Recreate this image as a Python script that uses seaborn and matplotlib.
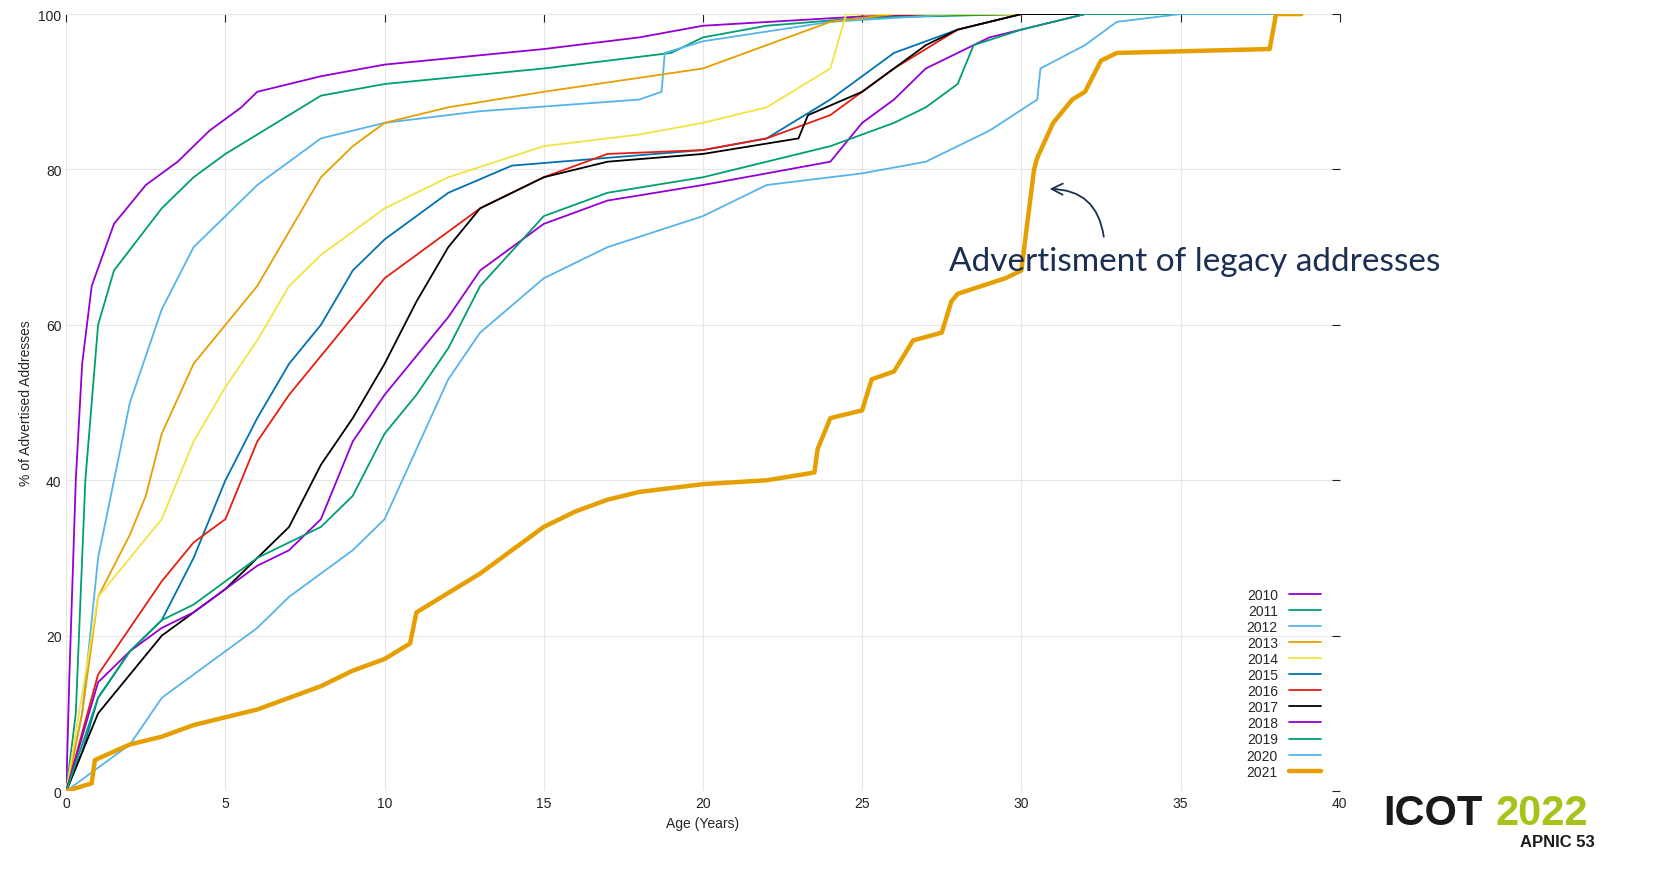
import numpy as np
import pandas as pd
import matplotlib
matplotlib.use("Agg")
import matplotlib.pyplot as plt
import seaborn as sns

# ---------------------------------------------------------------------------
# Data: (age in years, % of advertised addresses)
# ---------------------------------------------------------------------------
YEARS = ["2010", "2011", "2012", "2013", "2014", "2015",
         "2016", "2017", "2018", "2019", "2020", "2021"]

x_2010 = [0, 0.1, 0.3, 0.5, 0.8, 1.5, 2.5, 3.5, 4.5, 5.5, 6, 8, 10, 15, 18, 20, 25, 30, 38.8]
y_2010 = [0, 15, 40, 55, 65, 73, 78, 81, 85, 88, 90, 92, 93.5, 95.5, 97, 98.5, 99.7, 100, 100]

x_2011 = [0, 0.3, 0.6, 1, 1.5, 3, 4, 5, 7, 8, 10, 15, 19, 20, 22, 25, 30, 38.8]
y_2011 = [0, 10, 40, 60, 67, 75, 79, 82, 87, 89.5, 91, 93, 95, 97, 98.5, 99.5, 100, 100]

x_2012 = [0, 0.5, 1, 2, 3, 4, 5, 6, 7, 8, 10, 13, 18, 18.7, 18.8, 20, 24, 28, 38.8]
y_2012 = [0, 10, 30, 50, 62, 70, 74, 78, 81, 84, 86, 87.5, 89, 90, 95, 96.5, 99, 100, 100]

x_2013 = [0, 0.5, 1, 2, 2.5, 3, 4, 5, 6, 7, 8, 9, 10, 12, 15, 20, 22, 24, 26, 38.8]
y_2013 = [0, 10, 25, 33, 38, 46, 55, 60, 65, 72, 79, 83, 86, 88, 90, 93, 96, 99, 100, 100]

x_2014 = [0, 1, 2, 3, 4, 5, 6, 7, 8, 9, 10, 12, 15, 18, 20, 22, 24, 24.5, 38.8]
y_2014 = [0, 25, 30, 35, 45, 52, 58, 65, 69, 72, 75, 79, 83, 84.5, 86, 88, 93, 100, 100]

x_2015 = [0, 0.5, 1, 2, 3, 4, 5, 6, 7, 8, 9, 10, 12, 14, 17, 20, 22, 24, 26, 28, 30, 38.8]
y_2015 = [0, 5, 12, 18, 22, 30, 40, 48, 55, 60, 67, 71, 77, 80.5, 81.5, 82.5, 84, 89, 95, 98, 100, 100]

x_2016 = [0, 1, 2, 3, 4, 5, 6, 7, 8, 9, 10, 12, 13, 15, 17, 20, 22, 24, 26, 28, 30, 38.8]
y_2016 = [0, 15, 21, 27, 32, 35, 45, 51, 56, 61, 66, 72, 75, 79, 82, 82.5, 84, 87, 93, 98, 100, 100]

x_2017 = [0, 1, 2, 3, 4, 5, 6, 7, 8, 9, 10, 11, 12, 13, 15, 17, 20, 23, 23.3, 25, 27, 28, 30, 38.8]
y_2017 = [0, 10, 15, 20, 23, 26, 30, 34, 42, 48, 55, 63, 70, 75, 79, 81, 82, 84, 87, 90, 96, 98, 100, 100]

x_2018 = [0, 1, 2, 3, 4, 5, 6, 7, 8, 9, 10, 11, 12, 13, 15, 17, 20, 22, 24, 25, 26, 27, 28, 29, 31, 32, 38.8]
y_2018 = [0, 14, 18, 21, 23, 26, 29, 31, 35, 45, 51, 56, 61, 67, 73, 76, 78, 79.5, 81, 86, 89, 93, 95, 97, 99, 100, 100]

x_2019 = [0, 1, 2, 3, 4, 5, 6, 7, 8, 9, 10, 11, 12, 13, 15, 17, 20, 22, 24, 26, 27, 28, 28.5, 30, 32, 38.8]
y_2019 = [0, 12, 18, 22, 24, 27, 30, 32, 34, 38, 46, 51, 57, 65, 74, 77, 79, 81, 83, 86, 88, 91, 96, 98, 100, 100]

x_2020 = [0, 1, 2, 3, 4, 5, 6, 7, 8, 9, 10, 11, 12, 13, 15, 17, 20, 22, 25, 27, 29, 30.5, 30.6, 32, 33, 35, 38.8]
y_2020 = [0, 3, 6, 12, 15, 18, 21, 25, 28, 31, 35, 44, 53, 59, 66, 70, 74, 78, 79.5, 81, 85, 89, 93, 96, 99, 100, 100]

x_2021 = [0, 0.8, 0.9, 2, 3, 4, 5, 6, 7, 8, 9, 10, 10.8, 11, 12, 13, 14, 15, 16, 17, 18, 19, 20, 22,
          23.5, 23.6, 24, 25, 25.3, 26, 26.6, 27.5, 27.8, 28, 29.5, 30, 30.4, 30.5, 31, 31.6, 32, 32.5,
          33, 37.8, 38, 38.8]
y_2021 = [0, 1, 4, 6, 7, 8.5, 9.5, 10.5, 12, 13.5, 15.5, 17, 19, 23, 25.5, 28, 31, 34, 36, 37.5, 38.5,
          39, 39.5, 40, 41, 44, 48, 49, 53, 54, 58, 59, 63, 64, 66, 67, 80, 81.5, 86, 89, 90, 94,
          95, 95.5, 100, 100]

SERIES_X = [x_2010, x_2011, x_2012, x_2013, x_2014, x_2015,
            x_2016, x_2017, x_2018, x_2019, x_2020, x_2021]
SERIES_Y = [y_2010, y_2011, y_2012, y_2013, y_2014, y_2015,
            y_2016, y_2017, y_2018, y_2019, y_2020, y_2021]

# gnuplot-style default palette, repeating after 8
COLORS = ["#9400d3", "#009e73", "#56b4e9", "#e69f00", "#f0e442", "#0072b2",
          "#e51e10", "#000000", "#9400d3", "#009e73", "#56b4e9", "#e69f00"]

# ---------------------------------------------------------------------------
# Plot
# ---------------------------------------------------------------------------
sns.set_style("white")
plt.rcParams["font.family"] = ["Liberation Sans", "DejaVu Sans"]

fig = plt.figure(figsize=(16.56, 8.87), dpi=100)
ax = fig.add_axes([0.040, 0.107, 0.769, 0.876])

for year, xs, ys, col in zip(YEARS, SERIES_X, SERIES_Y, COLORS):
    df = pd.DataFrame({"age": xs, "pct": ys})
    lw = 3.2 if year == "2021" else 1.3
    sns.lineplot(data=df, x="age", y="pct", ax=ax, color=col, linewidth=lw,
                 label=year, sort=False)

ax.set_xlim(0, 40)
ax.set_ylim(0, 100)
ax.set_xticks(range(0, 41, 5))
ax.set_yticks(range(0, 101, 20))
ax.grid(True, color="#e6e6e6", linewidth=0.8)
ax.tick_params(direction="in", length=6, labelsize=10, colors="#222222",
               top=True, right=True)
for s in ax.spines.values():
    s.set_visible(False)
ax.set_xlabel("Age (Years)", fontsize=10)
ax.set_ylabel("% of Advertised Addresses", fontsize=10)

ax.legend(loc="lower right", markerfirst=False, frameon=False,
          fontsize=10, handlelength=2.3, labelspacing=0.15,
          bbox_to_anchor=(0.995, 0.0))

# annotation
ax.annotate("", xy=(30.8, 77.5), xytext=(32.6, 71),
            arrowprops=dict(arrowstyle="->,head_length=0.8,head_width=0.4",
                            color="#1c2f52", lw=1.3,
                            connectionstyle="arc3,rad=0.45"))
fig.text(0.573, 0.695, "Advertisment of legacy addresses", fontsize=24,
         color="#1c2f52", family=["Lato", "DejaVu Sans"])

# logo
fig.text(0.835, 0.07, "ICOT", fontsize=30, fontweight="bold", color="#1a1a1a")
fig.text(0.903, 0.07, "2022", fontsize=30, fontweight="bold", color="#a5c41a")
fig.text(0.918, 0.045, "APNIC 53", fontsize=12, fontweight="bold", color="#1a1a1a")

fig.savefig("out.png", dpi=100)
